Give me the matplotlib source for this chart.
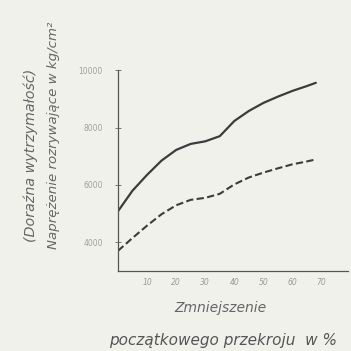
import matplotlib
matplotlib.use("Agg")
import matplotlib.pyplot as plt

reduction = [0, 5, 10, 15, 20, 25, 30, 35, 40, 45, 50, 55, 60, 65, 68]
strength_solid = [5080, 5800, 6350, 6850, 7220, 7430, 7520, 7700, 8230, 8580, 8860, 9080, 9280, 9450, 9560]
strength_dashed = [3700, 4150, 4580, 4980, 5290, 5480, 5550, 5690, 6020, 6260, 6430, 6580, 6720, 6820, 6890]
xticks = [10, 20, 30, 40, 50, 60, 70]
yticks = [4000, 6000, 8000, 10000]

bg = "#f1f1ec"
fig = plt.figure(figsize=(3.51, 3.51), dpi=100, facecolor=bg)
ax = fig.add_axes([0.336, 0.228, 0.655, 0.572])
ax.set_facecolor(bg)

ax.plot(reduction, strength_solid, color="#3c3c3c", lw=1.6, solid_capstyle="round")
ax.plot(reduction, strength_dashed, color="#3c3c3c", lw=1.5, dashes=(3.5, 1.6))

ax.set_xlim(0, 79)
ax.set_ylim(3000, 10000)
for s in ["top", "right"]:
    ax.spines[s].set_visible(False)
for s in ["left", "bottom"]:
    ax.spines[s].set_color("#555555")
    ax.spines[s].set_linewidth(0.9)

ax.set_xticks(xticks)
ax.set_xticklabels([str(v) for v in xticks], fontsize=5.5, color="#9a9a9a", style="italic")
ax.set_yticks(yticks)
ax.set_yticklabels([str(v) for v in yticks], fontsize=5.5, color="#a0a0a0")
ax.tick_params(axis="x", length=0, pad=5)
ax.tick_params(axis="y", length=4, direction="inout", color="#777777", pad=9, width=0.7)

txtc = "#666666"
fig.text(0.088, 0.558, "(Doraźna wytrzymałość)", rotation=90, ha="center", va="center",
         fontsize=10.3, color=txtc, style="italic")
fig.text(0.152, 0.615, "Naprężenie rozrywające w kg/cm²", rotation=90, ha="center", va="center",
         fontsize=9.6, color=txtc, style="italic")
fig.text(0.627, 0.122, "Zmniejszenie", ha="center", va="center", fontsize=10, color=txtc, style="italic")
fig.text(0.635, 0.031, "początkowego przekroju  w %", ha="center", va="center", fontsize=11,
         color="#555555", style="italic")

fig.savefig("out.png", dpi=100, facecolor=bg)
